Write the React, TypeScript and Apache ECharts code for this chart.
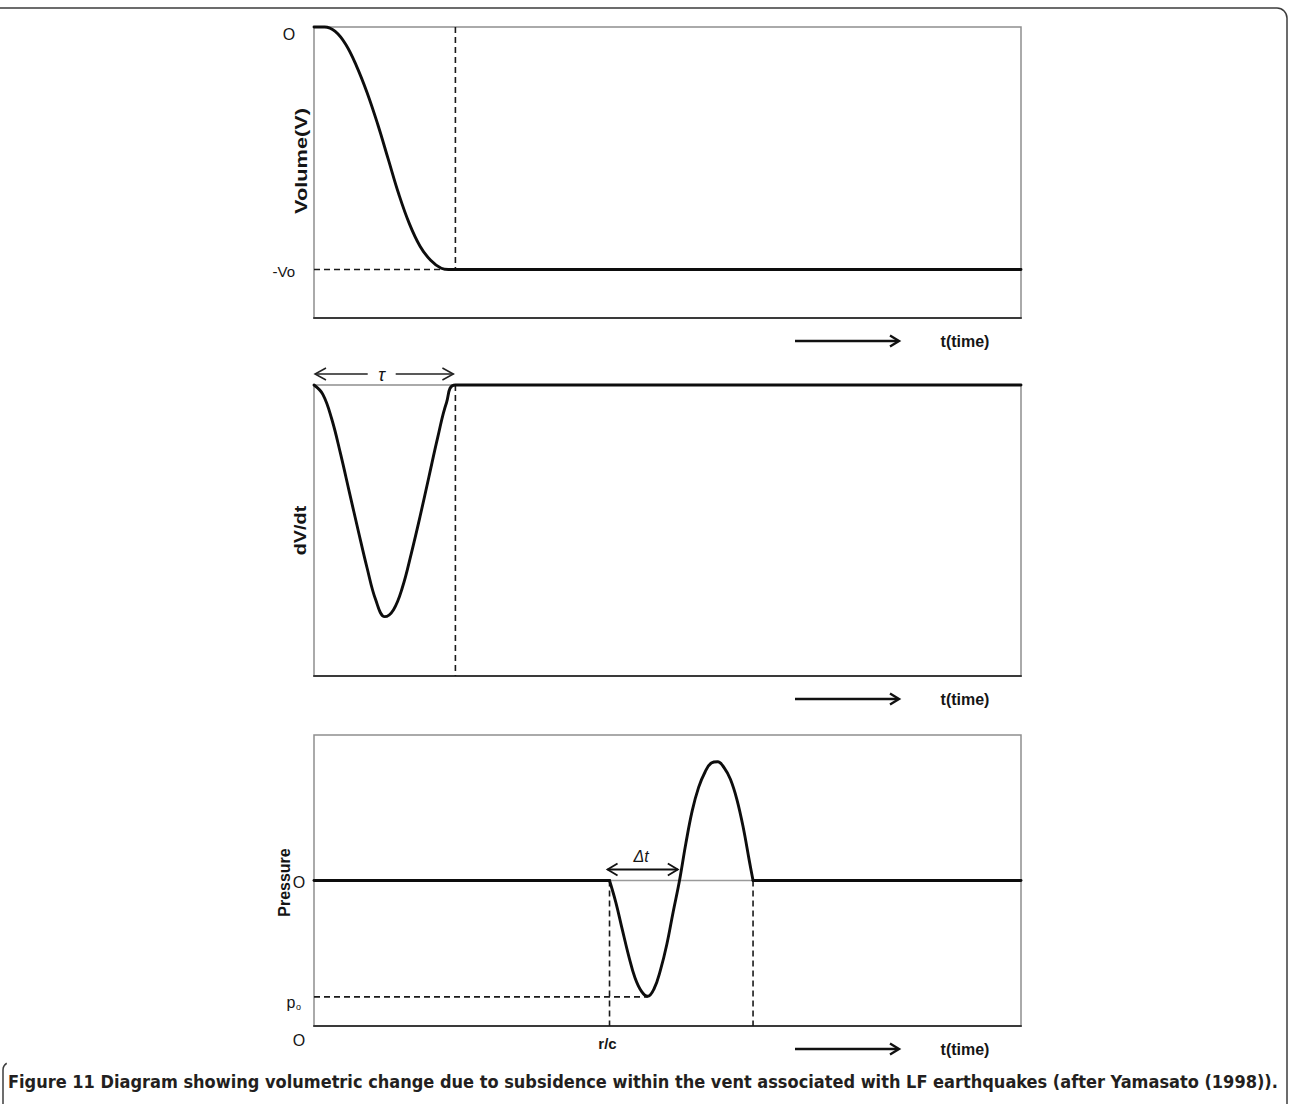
import React, { useEffect, useRef } from "react";
import * as echarts from "echarts";

// ---------- data (time axis 0..100, values normalised) ----------
const volumeT = [0, 1.5, 3.0, 4.5, 6.0, 7.5, 9.0, 10.5, 12.0, 13.5, 15.0, 16.5, 18.0, 19.0, 100];
const volumeV = [0, 0, -0.018, -0.072, -0.16, -0.27, -0.4, -0.545, -0.69, -0.812, -0.904, -0.962, -0.995, -1, -1];

const rateT = [0, 1.25, 2.5, 3.75, 5.0, 6.25, 7.5, 8.75, 10.0, 11.25, 12.5, 13.75, 15.0, 16.25, 17.5, 18.75, 20, 100];
const rateV = [0, -0.04, -0.145, -0.295, -0.46, -0.625, -0.785, -0.925, -0.995, -0.965, -0.87, -0.725, -0.565, -0.395, -0.225, -0.075, 0, 0];

const pressureT = [0, 41.8, 42.7, 43.6, 44.5, 45.4, 46.3, 47.2, 48.1, 49.0, 49.9, 50.8, 51.7, 52.6, 53.5, 54.4, 55.3, 56.2, 57.1, 58.0, 58.9, 59.8, 60.7, 61.6, 62.1, 100];
const pressureP = [0, 0, -0.19, -0.42, -0.645, -0.835, -0.95, -0.995, -0.93, -0.77, -0.55, -0.27, 0.0, 0.32, 0.6, 0.8, 0.93, 1.01, 1.02, 0.97, 0.87, 0.7, 0.46, 0.16, 0, 0];

const TAU = 20; // end of the source time function
const R_OVER_C = 41.8; // arrival time r/c
const DT_END = 51.6; // end of the negative phase
const PO_TIME = 47.2; // time of the pressure minimum
const PRESSURE_END = 62.1;

const axisNames = ["Volume(V)", "dV/dt", "Pressure"];
const volumeTickLabels = ["O", "-Vo"];
const pressureTickLabels = ["O", "p", "o", "O", "r/c"];
const timeLabel = "t(time)";
const caption =
  "Figure 11 Diagram showing volumetric change due to subsidence within the vent associated with LF earthquakes (after Yamasato (1998)).";

const FONT = "'Liberation Sans', Arial, sans-serif";
const NARROW = "'Liberation Sans Narrow', 'DejaVu Sans Condensed', 'Liberation Sans', sans-serif";

const pairs = (xs: number[], ys: number[]) => xs.map((x, i) => [x, ys[i]]);

export default function App() {
  const ref = useRef<HTMLDivElement>(null);

  useEffect(() => {
    document.body.style.margin = "0";
    const chart = echarts.init(ref.current!, null, { renderer: "svg" });

    const grids = [
      { left: 314, top: 27, width: 707, height: 291 },
      { left: 314, top: 385, width: 707, height: 291 },
      { left: 314, top: 735, width: 707, height: 291 },
    ];
    const yRanges = [
      [-1.2, 0],
      [-1.25, 0],
      [-1.25, 1.25],
    ];

    const dashed = (gi: number, data: number[][]) => ({
      type: "line",
      xAxisIndex: gi,
      yAxisIndex: gi,
      data,
      symbol: "none",
      silent: true,
      clip: false,
      lineStyle: { color: "#1a1a1a", width: 1.6, type: [6, 4] },
    });
    const curve = (gi: number, data: number[][], smooth: number | boolean = 0.4) => ({
      type: "line",
      xAxisIndex: gi,
      yAxisIndex: gi,
      data,
      symbol: "none",
      silent: true,
      clip: false,
      smooth,
      lineStyle: { color: "#0d0d0d", width: 2.9, join: "round", cap: "round" },
    });

    const pressure = pairs(pressureT, pressureP);
    const pressureBefore = pressure.filter(([t]) => t <= R_OVER_C);
    const pressureWave = pressure.filter(([t]) => t >= R_OVER_C && t <= PRESSURE_END);
    const pressureAfter = pressure.filter(([t]) => t >= PRESSURE_END);

    const option: any = {
      animation: false,
      backgroundColor: "#ffffff",
      grid: grids.map((g) => ({
        ...g,
        show: true,
        borderColor: "#8f8f8f",
        borderWidth: 1.5,
        backgroundColor: "transparent",
      })),
      xAxis: grids.map((_, i) => ({
        type: "value",
        gridIndex: i,
        min: 0,
        max: 100,
        axisLine: { show: true, onZero: false, lineStyle: { color: "#3a3a3a", width: 2 } },
        axisTick: { show: false },
        axisLabel: { show: false },
        splitLine: { show: false },
      })),
      yAxis: grids.map((_, i) => ({
        type: "value",
        gridIndex: i,
        min: yRanges[i][0],
        max: yRanges[i][1],
        axisLine: { show: false },
        axisTick: { show: false },
        axisLabel: { show: false },
        splitLine: { show: false },
      })),
      series: [
        dashed(0, [[TAU, 0], [TAU, -1]]),
        dashed(0, [[0, -1], [TAU, -1]]),
        curve(0, pairs(volumeT, volumeV)),
        dashed(1, [[TAU, 0], [TAU, -1.25]]),
        curve(1, pairs(rateT, rateV)),
        {
          type: "line",
          xAxisIndex: 2,
          yAxisIndex: 2,
          data: [[0, 0], [100, 0]],
          symbol: "none",
          silent: true,
          lineStyle: { color: "#9a9a9a", width: 1.5 },
        },
        dashed(2, [[R_OVER_C, 0], [R_OVER_C, -1.25]]),
        dashed(2, [[PRESSURE_END, 0], [PRESSURE_END, -1.25]]),
        dashed(2, [[0, -1], [PO_TIME, -1]]),
        curve(2, pressureBefore, false),
        curve(2, pressureWave, 0.4),
        curve(2, pressureAfter, false),
      ],
    };
    chart.setOption(option);

    const px = (gi: number, pt: number[]) => chart.convertToPixel({ gridIndex: gi } as any, pt) as number[];

    const txt = (text: string, x: number, y: number, size: number, opts: any = {}) => ({
      type: "text",
      silent: true,
      z: 100,
      x: opts.rotate ? x : 0,
      y: opts.rotate ? y : 0,
      rotation: opts.rotate || 0,
      scaleX: opts.stretch || 1,
      style: {
        text,
        x: opts.rotate ? 0 : x,
        y: opts.rotate ? 0 : y,
        fill: opts.fill || "#151515",
        font: `${opts.italic ? "italic " : ""}${opts.bold ? "bold " : ""}${size}px ${opts.family || FONT}`,
        textAlign: opts.align || "center",
        align: opts.align || "center",
        textVerticalAlign: "middle",
        verticalAlign: "middle",
      },
    });
    const seg = (x1: number, y1: number, x2: number, y2: number, w: number, color = "#111") => ({
      type: "line",
      silent: true,
      z: 100,
      shape: { x1, y1, x2, y2 },
      style: { stroke: color, lineWidth: w },
    });
    const head = (x: number, y: number, dir: number, len: number, half: number, w: number, color = "#111") => ({
      type: "polyline",
      silent: true,
      z: 100,
      shape: {
        points: [
          [x - dir * len, y - half],
          [x, y],
          [x - dir * len, y + half],
        ],
      },
      style: { stroke: color, lineWidth: w, fill: "none", lineJoin: "miter" },
    });

    const graphics: any[] = [];

    // outer frame
    graphics.push({
      type: "rect",
      silent: true,
      shape: { x: -12, y: 8, width: 1299, height: 1200, r: 10 },
      style: { fill: "none", stroke: "#3d3d3d", lineWidth: 1.5 },
    });
    graphics.push({
      type: "arc",
      silent: true,
      shape: { cx: 11, cy: 1070, r: 8, startAngle: Math.PI, endAngle: Math.PI * 1.32, clockwise: true },
      style: { stroke: "#3d3d3d", lineWidth: 1.5, fill: "none" },
    });
    graphics.push(seg(3, 1070, 3, 1104, 1.5, "#3d3d3d"));

    // y-axis names (rotated)
    const mid1 = px(0, [0, -0.55]);
    const mid2 = px(1, [0, -0.625]);
    const mid3 = px(2, [0, 0]);
    graphics.push(txt(axisNames[0], mid1[0] - 12, 161, 16, { bold: true, rotate: Math.PI / 2, stretch: 1.36 }));
    graphics.push(txt(axisNames[1], mid2[0] - 13, mid2[1], 16, { bold: true, rotate: Math.PI / 2, stretch: 1.24 }));
    graphics.push(txt(axisNames[2], mid3[0] - 30, mid3[1] + 2, 16, { bold: true, rotate: Math.PI / 2 }));

    // time arrows under each panel
    grids.forEach((g) => {
      const y = g.top + g.height + 23;
      graphics.push(seg(795, y, 898, y, 2.6));
      graphics.push(head(899, y, 1, 9, 5.5, 2.4));
      graphics.push(txt(timeLabel, 965, y, 16, { bold: true }));
    });

    // panel 1 labels
    const p1zero = px(0, [0, 0]);
    const p1vo = px(0, [0, -1]);
    graphics.push(txt(volumeTickLabels[0], 289, p1zero[1] + 7, 16));
    graphics.push(txt(volumeTickLabels[1], 295, p1vo[1] + 2, 15, { align: "right" }));

    // tau arrow
    const t0 = px(1, [0, 0]);
    const t1 = px(1, [TAU, 0]);
    const ty = t0[1] - 11;
    const tc = (t0[0] + t1[0]) / 2 - 3;
    graphics.push(seg(t0[0] + 1, ty, tc - 14, ty, 1.5, "#222"));
    graphics.push(seg(tc + 14, ty, t1[0] - 2, ty, 1.5, "#222"));
    graphics.push(head(t0[0] + 1, ty, -1, 11, 6, 1.5, "#222"));
    graphics.push(head(t1[0] - 2, ty, 1, 11, 6, 1.5, "#222"));
    graphics.push(txt("τ", tc, ty + 1, 18, { italic: true }));

    // panel 3 labels
    const zero3 = px(2, [0, 0]);
    const po3 = px(2, [0, -1]);
    const bot3 = px(2, [0, -1.25]);
    const rc = px(2, [R_OVER_C, -1.25]);
    graphics.push(txt(pressureTickLabels[0], 299, zero3[1] + 2, 16));
    graphics.push(txt(pressureTickLabels[1], 291, po3[1] + 6, 16));
    graphics.push(txt(pressureTickLabels[2], 298.5, po3[1] + 10, 9));
    graphics.push(txt(pressureTickLabels[3], 299, bot3[1] + 14, 16));
    graphics.push(txt(pressureTickLabels[4], rc[0] - 2, bot3[1] + 17, 15, { bold: true }));

    // delta-t arrow
    const d0 = px(2, [R_OVER_C, 0]);
    const d1 = px(2, [DT_END, 0]);
    const dy = d0[1] - 11;
    graphics.push(seg(d0[0] - 2, dy, d1[0] - 1, dy, 2));
    graphics.push(head(d0[0] - 2, dy, -1, 10, 6, 1.8));
    graphics.push(head(d1[0] - 1, dy, 1, 10, 6, 1.8));
    graphics.push(txt("Δt", (d0[0] + d1[0]) / 2 - 3, dy - 13, 16, { italic: true }));

    // caption
    graphics.push(txt(caption, 8, 1081, 18, { bold: true, align: "left", family: NARROW, fill: "#231f20" }));

    chart.setOption({ graphic: graphics });

    return () => chart.dispose();
  }, []);

  return <div ref={ref} style={{ width: 1289, height: 1104 }} />;
}
